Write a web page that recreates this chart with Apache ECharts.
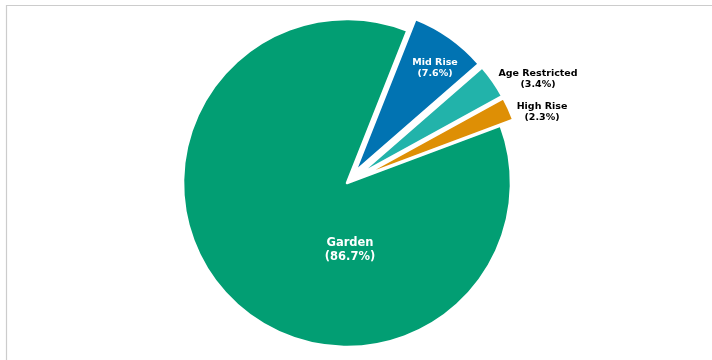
<!DOCTYPE html>
<html>
<head>
<meta charset="utf-8">
<script src="https://cdn.jsdelivr.net/npm/echarts@6/dist/echarts.min.js"></script>
<style>html,body{margin:0;padding:0;background:#fff}#c{width:712px;height:360px}</style>
</head>
<body>
<div id="c"></div>
<script>
const categories = ['Garden', 'Mid Rise', 'Age Restricted', 'High Rise'];
const values = [86.7, 7.6, 3.4, 2.3];
const colors = ['#029E73', '#0173B2', '#22B3AA', '#DE8F05'];
const exploded = [false, true, true, true];
const labelOffsets = [[3, 67], [88, -115], [191, -104], [195, -71]];
const labelColors = ['#ffffff', '#ffffff', '#000000', '#000000'];
const labelSizes = [11.5, 9.5, 9.5, 9.5];

const chart = echarts.init(document.getElementById('c'), null, {renderer: 'canvas'});
const sliceData = categories.map((c, i) => ({
  name: c,
  value: values[i],
  selected: exploded[i],
  itemStyle: {color: colors[i]},
  select: {itemStyle: {color: colors[i], borderColor: '#ffffff', borderWidth: 2.5}}
}));
const labelData = categories.map((c, i) => ({
  name: c,
  value: values[i],
  itemStyle: {color: 'rgba(0,0,0,0)', borderWidth: 0},
  label: {
    show: true,
    position: 'center',
    offset: labelOffsets[i],
    color: labelColors[i],
    fontSize: labelSizes[i],
    lineHeight: labelSizes[i] + 2,
    fontWeight: 'bold',
    fontFamily: 'DejaVu Sans',
    formatter: '{b}\n({c}%)'
  }
}));
const common = {
  type: 'pie',
  center: [347, 183],
  radius: [0, 164],
  startAngle: 20.5,
  clockwise: true,
  avoidLabelOverlap: false,
  labelLine: {show: false},
  emphasis: {disabled: true}
};
chart.setOption({
  animation: false,
  graphic: [{
    type: 'rect', shape: {x: 6.5, y: 5.5, width: 720, height: 400},
    style: {fill: 'none', stroke: '#cccccc', lineWidth: 1.2}, silent: true, z: -1
  }],
  series: [
    Object.assign({}, common, {
      selectedMode: 'multiple',
      selectedOffset: 14,
      label: {show: false},
      itemStyle: {borderColor: '#ffffff', borderWidth: 2.5},
      data: sliceData
    }),
    Object.assign({}, common, {
      silent: true,
      z: 5,
      labelLayout: {hideOverlap: false},
      data: labelData
    })
  ]
});
</script>
</body>
</html>
